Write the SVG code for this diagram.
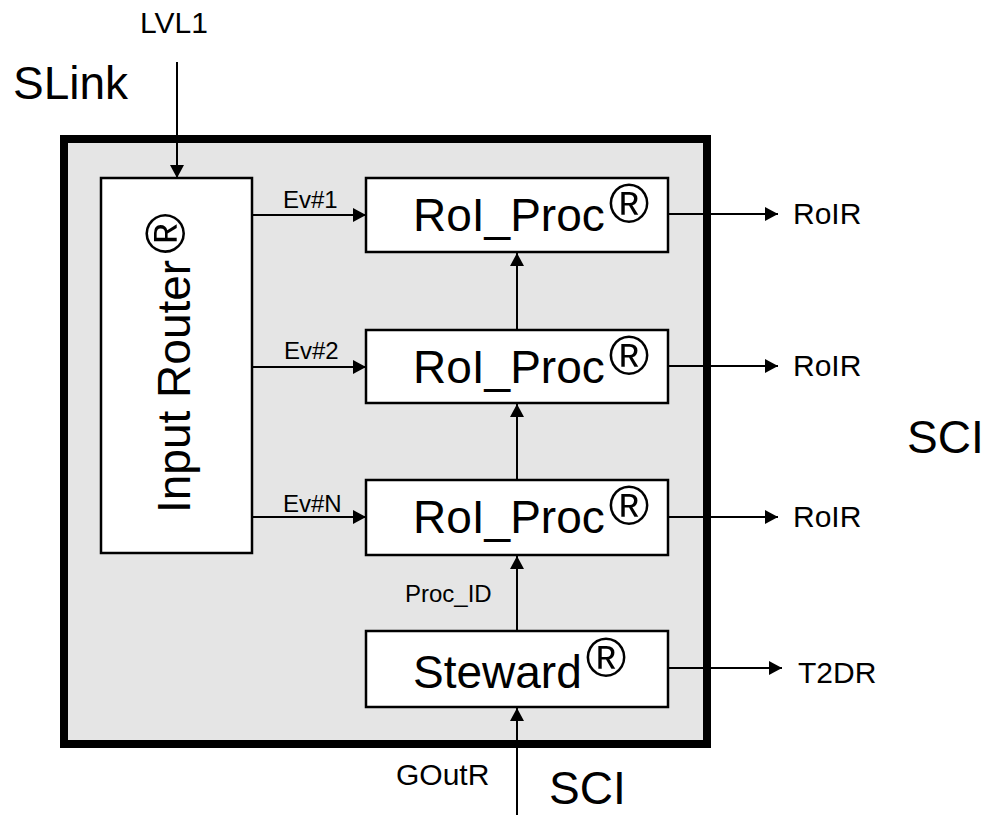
<svg xmlns="http://www.w3.org/2000/svg" width="996" height="815" viewBox="0 0 996 815">
<defs>
<style>
text{font-family:"Liberation Sans",Arial,sans-serif;fill:#000}
.big{font-size:46px}
.mid{font-size:30px}
.sm{font-size:24px}
.reg{font-size:55px}
.box{fill:#fff;stroke:#000;stroke-width:2.5}
.ln{fill:none;stroke:#000;stroke-width:2}
</style>
<marker id="ah" markerUnits="userSpaceOnUse" markerWidth="14" markerHeight="14" refX="13" refY="7" orient="auto">
<path d="M0,0 L13,7 L0,14 Z" fill="#000"/>
</marker>
</defs>
<rect width="996" height="815" fill="#fff"/>
<g id="frame">
<rect x="64" y="139" width="643" height="605" fill="#e5e5e5" stroke="#000" stroke-width="8"/>
</g>
<g id="labels">
<text class="big" x="13" y="99">SLink</text>
<text class="mid" x="140" y="33">LVL1</text>
<text class="big" x="907" y="453">SCI</text>
<text class="big" x="549" y="804">SCI</text>
<text class="mid" x="396" y="785">GOutR</text>
</g>
<g id="connectors">
<line class="ln" x1="177" y1="62" x2="177" y2="178" marker-end="url(#ah)"/>
<line class="ln" x1="252" y1="215" x2="366" y2="215" marker-end="url(#ah)"/>
<line class="ln" x1="252" y1="367" x2="366" y2="367" marker-end="url(#ah)"/>
<line class="ln" x1="252" y1="517" x2="366" y2="517" marker-end="url(#ah)"/>
<text class="sm" x="283" y="208">Ev#1</text>
<text class="sm" x="284" y="359">Ev#2</text>
<text class="sm" x="283" y="512">Ev#N</text>
<line class="ln" x1="517" y1="330" x2="517" y2="253" marker-end="url(#ah)"/>
<line class="ln" x1="517" y1="480" x2="517" y2="404" marker-end="url(#ah)"/>
<line class="ln" x1="517" y1="631" x2="517" y2="556" marker-end="url(#ah)"/>
<line class="ln" x1="517" y1="815" x2="517" y2="708" marker-end="url(#ah)"/>
<text class="sm" x="405" y="602">Proc_ID</text>
<line class="ln" x1="668" y1="214" x2="778" y2="214" marker-end="url(#ah)"/>
<line class="ln" x1="668" y1="366" x2="778" y2="366" marker-end="url(#ah)"/>
<line class="ln" x1="668" y1="517" x2="778" y2="517" marker-end="url(#ah)"/>
<line class="ln" x1="668" y1="668" x2="782" y2="668" marker-end="url(#ah)"/>
<text class="mid" x="793" y="224">RoIR</text>
<text class="mid" x="793" y="376">RoIR</text>
<text class="mid" x="793" y="527">RoIR</text>
<text class="mid" x="798" y="683">T2DR</text>
</g>
<g id="input-router">
<rect class="box" x="101" y="178" width="151" height="375"/>
<text class="big" transform="translate(190,513) rotate(-90)">Input Router<tspan class="reg" dx="6" dy="-5">®</tspan></text>
</g>
<g id="roi-proc-1">
<rect class="box" x="366" y="178" width="302" height="74"/>
<text class="big" x="413" y="231">RoI_Proc<tspan class="reg" dx="4" dy="-8">®</tspan></text>
</g>
<g id="roi-proc-2">
<rect class="box" x="366" y="330" width="302" height="73"/>
<text class="big" x="413" y="383">RoI_Proc<tspan class="reg" dx="4" dy="-8">®</tspan></text>
</g>
<g id="roi-proc-n">
<rect class="box" x="366" y="480" width="302" height="75"/>
<text class="big" x="413" y="533">RoI_Proc<tspan class="reg" dx="4" dy="-8">®</tspan></text>
</g>
<g id="steward">
<rect class="box" x="366" y="631" width="302" height="76"/>
<text class="big" x="413" y="688">Steward<tspan class="reg" dx="4" dy="-11">®</tspan></text>
</g>
</svg>
